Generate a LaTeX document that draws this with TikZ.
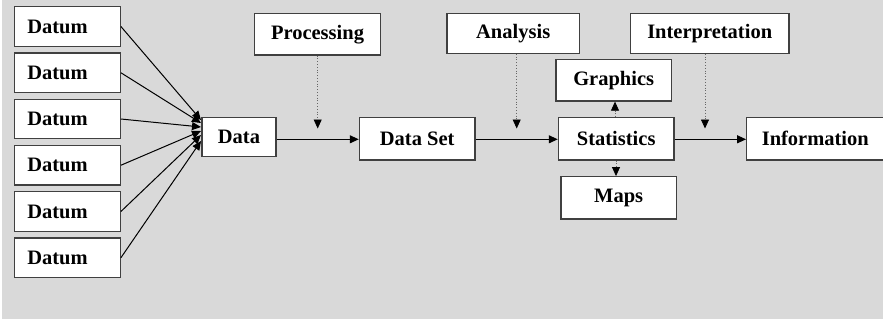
\documentclass[tikz,border=0pt]{standalone}
\usepackage{fontspec}
\setmainfont{Liberation Serif}
\usetikzlibrary{arrows.meta}
\begin{document}
\begin{tikzpicture}[x=1pt,y=-1pt,
  box/.style={draw=black!75, line width=1.2pt, fill=white, inner sep=0pt,
    font=\fontsize{20.5}{24}\selectfont\bfseries, align=center},
  datum/.style={box, text width=80pt, align=left, inner xsep=13pt, inner ysep=0pt, minimum height=39.5pt},
  flow/.style={line width=1.1pt, -{Triangle[length=9pt,width=8pt]}},
  fan/.style={line width=1pt, -{Triangle[length=9pt,width=8pt]}},
  dotarrow/.style={dotted, line width=0.8pt, draw=black!60, -{Triangle[length=9pt,width=8pt,color=black]}}
]
\useasboundingbox (0,0) rectangle (883,321);
\clip (0,0) rectangle (883,321);
\fill[white] (0,0) rectangle (883,321);
\fill[fill={rgb,255:red,217;green,217;blue,217}] (2,0) rectangle (883,319);

% Datum boxes
\foreach \i/\y in {1/26.5,2/72.75,3/119,4/165.25,5/211.5,6/257.75}{
  \node[datum] (d\i) at (67.3,\y) {Datum};
}

% main chain
\node[box, minimum width=74pt, minimum height=38.5pt] (data) at (239,136.9) {Data};
\node[box, minimum width=115.7pt, minimum height=42.3pt] (dataset) at (417.2,138.8) {Data Set};
\node[box, minimum width=115.7pt, minimum height=42.3pt] (stats) at (616.2,138.8) {Statistics};
\node[box, minimum width=137.3pt, minimum height=42.3pt] (info) at (815.3,138.8) {Information};

% upper / lower boxes
\node[box, minimum width=126.4pt, minimum height=41.7pt] (proc) at (317.5,34.2) {Processing};
\node[box, minimum width=132.3pt, minimum height=40pt] (anal) at (513.2,33.3) {Analysis};
\node[box, minimum width=158.7pt, minimum height=40pt] (interp) at (709.7,33.3) {Interpretation};
\node[box, minimum width=115.3pt, minimum height=41.7pt] (graph) at (613.7,80.2) {Graphics};
\node[box, minimum width=115.3pt, minimum height=42.3pt] (maps) at (618.7,197.8) {Maps};

% converging endpoints at Data
\coordinate (e1) at (201,120);
\coordinate (e2) at (201,123);
\coordinate (e3) at (201,127);
\coordinate (e4) at (201,131);
\coordinate (e5) at (201,135);
\coordinate (e6) at (201,141);
\foreach \i in {1,...,6}{
  \draw[fan] (d\i.east) -- (e\i);
}

% flow arrows
\draw[flow] (data.east |- 0,139.3) -- (dataset.west |- 0,139.3);
\draw[flow] (dataset.east |- 0,139.3) -- (stats.west |- 0,139.3);
\draw[flow] (stats.east |- 0,139.3) -- (info.west |- 0,139.3);

% dotted influence arrows
\coordinate (p1) at (317.7,128.5);
\coordinate (a1) at (516.7,128.5);
\coordinate (i1) at (705,128.5);
\draw[dotarrow] (proc.south -| p1) -- (p1);
\draw[dotarrow] (anal.south -| a1) -- (a1);
\draw[dotarrow] (interp.south -| i1) -- (i1);

\coordinate (g1) at (615,101);
\coordinate (m1) at (616,176.7);
\draw[dotarrow] (stats.north -| g1) -- (graph.south -| g1);
\draw[dotarrow] (stats.south -| m1) -- (maps.north -| m1);
\end{tikzpicture}
\end{document}
